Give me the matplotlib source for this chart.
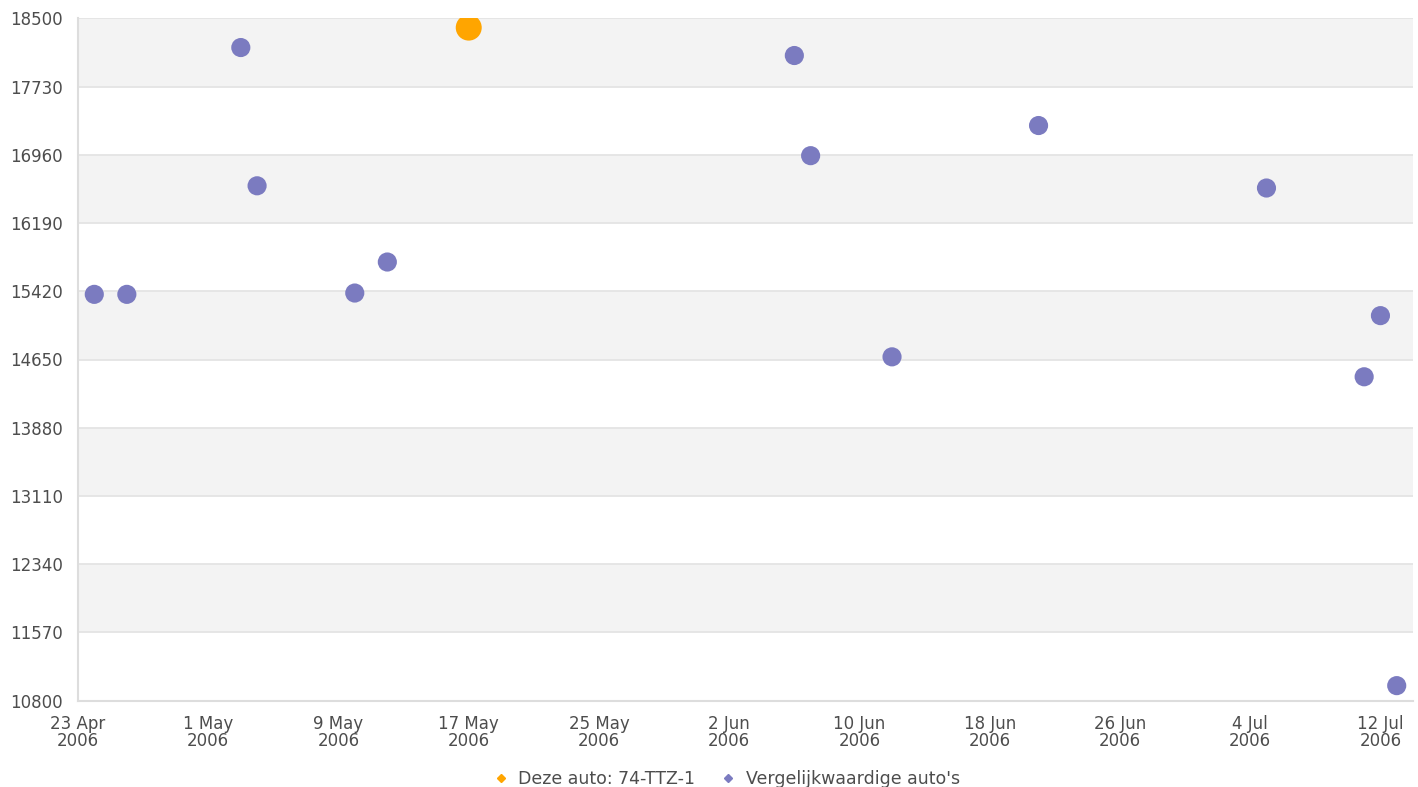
import os
import numpy as np
import pandas as pd
import matplotlib
matplotlib.use("Agg")
from matplotlib import pyplot as plt
from matplotlib import font_manager

dv = os.path.join(matplotlib.get_data_path(), "fonts", "ttf", "DejaVuSans.ttf")
if os.path.exists(dv):
    font_manager.fontManager.addfont(dv)
plt.rcParams['font.family'] = ['DejaVu Sans']

# comparable cars (purple)
comp_dates = ["2006-04-24", "2006-04-26", "2006-05-03", "2006-05-04", "2006-05-10",
              "2006-05-12", "2006-06-06", "2006-06-07", "2006-06-12", "2006-06-21",
              "2006-07-05", "2006-07-11", "2006-07-12", "2006-07-13"]
comp_prices = [15385, 15385, 18170, 16610, 15400,
               15750, 18080, 16950, 14680, 17290,
               16585, 14455, 15145, 10970]

# this car (orange)
this_dates = ["2006-05-17"]
this_prices = [18395]

y_ticks = [10800, 11570, 12340, 13110, 13880, 14650, 15420, 16190, 16960, 17730, 18500]
x_start, x_end = "2006-04-23", "2006-07-14"

purple = "#7b7bc0"
orange = "#ffa500"
txt = "#4d4d4d"

fig = plt.figure(figsize=(14.18, 7.87), dpi=100)
ax = fig.add_axes([78/1418, 1-700.7/787, (1413-78)/1418, (700.7-18.3)/787])

# alternating bands
for i in range(len(y_ticks)-1):
    if i % 2 == 1:
        ax.axhspan(y_ticks[i], y_ticks[i+1], color="#f3f3f3", lw=0, zorder=0)
for t in y_ticks:
    ax.axhline(t, color="#e4e4e4", lw=1.3, zorder=1)

ax.scatter(pd.to_datetime(comp_dates), comp_prices, s=190, color=purple,
           edgecolors="none", zorder=3, label="Vergelijkwaardige auto's")
ax.scatter(pd.to_datetime(this_dates), this_prices, s=350, color=orange,
           edgecolors="none", zorder=4, label="Deze auto: 74-TTZ-1")

ax.set_ylim(y_ticks[0], y_ticks[-1])
ax.set_yticks(y_ticks)
ax.set_xlim(pd.Timestamp(x_start), pd.Timestamp(x_end))
xt = pd.date_range(x_start, "2006-07-12", freq="8D")
ax.set_xticks(xt)
ax.set_xticklabels([f"{d.day} {d.strftime('%b')}\n{d.year}" for d in xt], linespacing=0.95)

ax.tick_params(axis="both", length=0, labelsize=12, colors=txt)
ax.tick_params(axis="y", pad=11)
ax.tick_params(axis="x", pad=10)
for s in ["top", "right"]:
    ax.spines[s].set_visible(False)
for s in ["left", "bottom"]:
    ax.spines[s].set_color("#dddddd")
    ax.spines[s].set_linewidth(1.5)
ax.set_axisbelow(True)

h1 = plt.Line2D([], [], marker="D", ls="none", color=orange, markersize=4)
h2 = plt.Line2D([], [], marker="D", ls="none", color=purple, markersize=4)
leg = fig.legend([h1, h2], ["Deze auto: 74-TTZ-1", "Vergelijkwaardige auto's"],
                 loc="center", bbox_to_anchor=(726/1418, 1-779/787), ncol=2,
                 frameon=False, fontsize=12.5, handletextpad=0.5, columnspacing=1.4,
                 handlelength=1.0)
for t in leg.get_texts():
    t.set_color(txt)

fig.savefig("out.png", dpi=100)
